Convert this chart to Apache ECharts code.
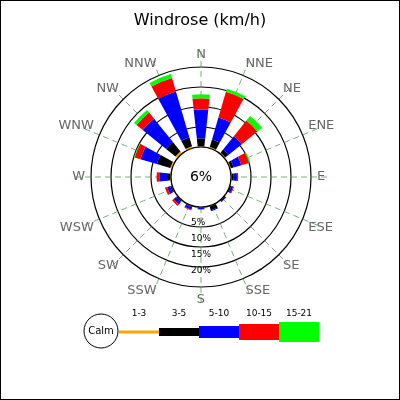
<!DOCTYPE html>
<html><head><meta charset="utf-8">
<script src="https://cdn.jsdelivr.net/npm/echarts@6/dist/echarts.min.js"></script>
<style>html,body{margin:0;padding:0;background:#fff}#c{width:400px;height:400px;box-sizing:border-box;border:1px solid #000}</style>
</head><body><div id="c"></div>
<script>
const dirs = ['N','NNE','NE','ENE','E','ESE','SE','SSE','S','SSW','SW','WSW','W','WNW','NW','NNW'];
const speedBins = ['1-3','3-5','5-10','10-15','15-21'];
const binColors = ['#FFA500','#000000','#0000FF','#FF0000','#00FF00'];
const s1_3   = [0.2,0.3,0.3,0.3,0.2,0.1,0.1,0.2,0.1,0.2,0.2,0.2,0.2,0.5,0.7,0.5];
const s3_5   = [2.0,2.0,1.0,0.7,0.5,0.3,0.3,1.0,0.1,0.2,0.3,0.3,0.8,3.5,3.0,2.3];
const s5_10  = [7.2,5.7,4.3,2.0,0.8,0.5,0.2,0.2,0.3,0.6,0.8,0.8,1.8,4.3,7.5,12.0];
const s10_15 = [2.8,6.7,5.0,2.0,0.3,0.2,0.0,0.0,0.1,0.2,0.5,0.6,0.8,1.5,2.0,3.5];
const s15_21 = [1.0,0.8,1.5,0.3,0.0,0.0,0.0,0.0,0.0,0.0,0.0,0.0,0.0,0.2,0.8,1.0];
const calm = '6%';
const ringTicks = [5,10,15,20];
const allData = [s1_3,s3_5,s5_10,s10_15,s15_21];

const chart = echarts.init(document.getElementById('c'));
const cx = 200, cy = 176;
const lg = [];
lg.push({type:'circle',shape:{cx:100,cy:330,r:17},style:{fill:'#fff',stroke:'#000',lineWidth:1}});
lg.push({type:'text',x:100,y:330,style:{text:'Calm',fill:'#000',font:'10px DejaVu Sans',align:'center',verticalAlign:'middle'}});
const hs=[3,8,12,16,20];
speedBins.forEach((b,i)=>{
  const x0=118+40*i;
  lg.push({type:'rect',shape:{x:x0,y:331-hs[i]/2,width:40,height:hs[i]},style:{fill:binColors[i]}});
  lg.push({type:'text',x:x0+20,y:313,style:{text:b,fill:'#000',font:'9px DejaVu Sans',align:'center',verticalAlign:'middle'}});
});
chart.setOption({
  animation:false,
  title:{text:'Windrose (km/h)',left:'center',top:7,textStyle:{fontFamily:'DejaVu Sans',fontSize:16,fontWeight:'normal',color:'#000'}},
  polar:[{center:[cx,cy],radius:[30,110]},{center:[cx,cy],radius:[30,126]}],
  angleAxis:[
    {polarIndex:0,type:'category',data:dirs,startAngle:101.25,clockwise:true,show:false},
    {polarIndex:1,type:'value',min:0,max:360,interval:22.5,startAngle:270,clockwise:true,
     axisLine:{show:false},axisTick:{show:false},
     axisLabel:{color:'#666',fontFamily:'DejaVu Sans',fontSize:13,margin:-10,
       formatter:v=>dirs[(Math.round(v/22.5)+8)%16]},
     splitLine:{show:true,lineStyle:{color:'#5a9a5a',type:[6,4],width:0.8}}}
  ],
  radiusAxis:[
    {polarIndex:0,min:0,max:20,interval:5,axisLine:{show:false},axisTick:{show:false},axisLabel:{show:false},
     splitLine:{show:true,lineStyle:{color:'#000',width:1.2}}},
    {polarIndex:1,min:0,max:24,interval:4,axisLine:{show:false},axisTick:{show:false},splitLine:{show:false},
     axisLabel:{fontFamily:'DejaVu Sans',fontSize:9,color:'#000',margin:-10,
       formatter:v=>{const p=v*5/4;return ringTicks.includes(p)?p+'%':'';}}}
  ],
  series: allData.map((d,i)=>({type:'bar',coordinateSystem:'polar',polarIndex:0,stack:'w',name:speedBins[i],
    data:d,barWidth:'55%',itemStyle:{color:binColors[i]},z:3})),
  graphic:[
    {type:'circle',shape:{cx:cx,cy:cy,r:30},style:{fill:'#fff',stroke:'#000',lineWidth:1.2},z:10},
    {type:'text',x:cx,y:cy,style:{text:calm,fill:'#000',font:'14px DejaVu Sans',align:'center',verticalAlign:'middle'},z:11},
    ...lg
  ]
});
</script></body></html>
